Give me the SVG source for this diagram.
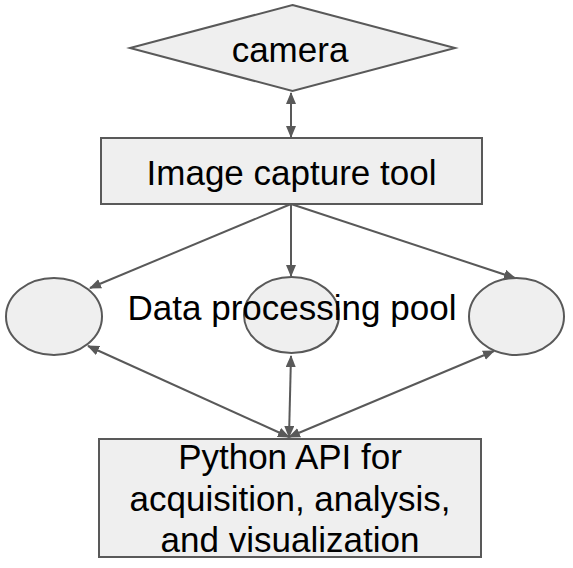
<svg xmlns="http://www.w3.org/2000/svg" width="573" height="568" viewBox="0 0 573 568">
<style>
.shape{fill:#efefef;stroke:#595959;stroke-width:2}
.lbl{font-family:"Liberation Sans",Arial,sans-serif;font-size:35px;fill:#000;text-anchor:middle}
.conn{stroke:#595959;stroke-width:2;fill:none}
</style>
<defs>
<marker id="ah" viewBox="0 0 12 10" refX="11" refY="5" markerWidth="12" markerHeight="10" markerUnits="userSpaceOnUse" orient="auto-start-reverse">
<path d="M0,0 L12,5 L0,10 z" fill="#595959"/>
</marker>
</defs>
<g id="connectors">
<line class="conn" x1="291" y1="93" x2="291" y2="137" marker-start="url(#ah)" marker-end="url(#ah)"/>
<line class="conn" x1="291" y1="204" x2="90" y2="288" marker-end="url(#ah)"/>
<line class="conn" x1="291" y1="204" x2="291" y2="276" marker-end="url(#ah)"/>
<line class="conn" x1="291" y1="204" x2="515" y2="278" marker-end="url(#ah)"/>
<line class="conn" x1="289" y1="437" x2="88" y2="346" marker-start="url(#ah)" marker-end="url(#ah)"/>
<line class="conn" x1="289" y1="437" x2="291" y2="356" marker-start="url(#ah)" marker-end="url(#ah)"/>
<line class="conn" x1="289" y1="437" x2="494" y2="351" marker-start="url(#ah)" marker-end="url(#ah)"/>
</g>
<g id="camera">
<polygon class="shape" points="292.5,5 455,48 292.5,91 130,48"/>
<text class="lbl" x="290" y="62">camera</text>
</g>
<g id="capture">
<rect class="shape" x="101" y="138" width="381" height="66"/>
<text class="lbl" x="291.5" y="185">Image capture tool</text>
</g>
<g id="pool-left">
<ellipse class="shape" cx="54" cy="316.5" rx="48" ry="38.5"/>
</g>
<g id="pool-middle">
<ellipse class="shape" cx="291.5" cy="315" rx="47.5" ry="38"/>
</g>
<g id="pool-right">
<ellipse class="shape" cx="516.5" cy="316.5" rx="47.5" ry="38.5"/>
</g>
<g id="pool-label">
<text class="lbl" x="292" y="320">Data processing pool</text>
</g>
<g id="python-api">
<rect class="shape" x="99" y="439" width="382" height="118"/>
<text class="lbl" x="290" y="469">Python API for</text>
<text class="lbl" x="290" y="511">acquisition, analysis,</text>
<text class="lbl" x="290" y="552">and visualization</text>
</g>
</svg>
